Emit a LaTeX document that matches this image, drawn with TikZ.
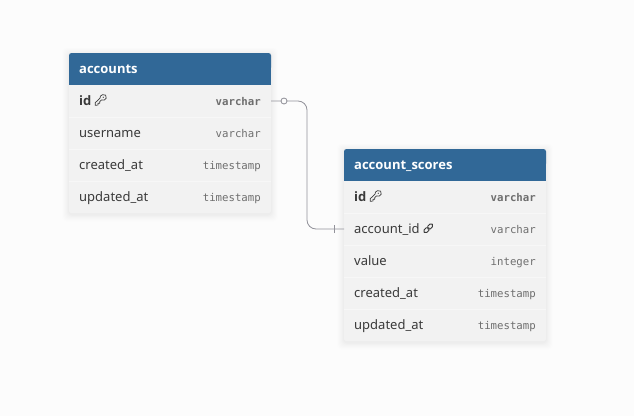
\documentclass[tikz,border=0pt]{standalone}
\usepackage{fontspec}
\setmainfont{Noto Sans}
\newfontfamily\boldfam{Open Sans}
\newfontfamily\monof{DejaVu Sans Mono}
\definecolor{bgc}{HTML}{FCFCFC}
\definecolor{hdr}{HTML}{316897}
\definecolor{rowc}{HTML}{F2F2F2}
\definecolor{sep}{HTML}{F7F7F7}
\definecolor{txt}{HTML}{3A3A3A}
\definecolor{typ}{HTML}{6E6E6E}
\definecolor{lnk}{HTML}{92929A}
\tikzset{
  x=1pt,y=-1pt,
  hdrtext/.style={anchor=base west,text=white,font=\fontsize{13}{13}\selectfont\boldfam\bfseries,inner sep=0pt},
  rowbox/.style={anchor=north west,minimum width=202pt,minimum height=32pt,inner sep=0pt,outer sep=0pt,fill=rowc},
  fname/.style={anchor=base west,text=txt,font=\fontsize{13}{13}\selectfont,inner sep=0pt},
  pkname/.style={fname,font=\fontsize{13}{13}\selectfont\boldfam\bfseries},
  ftype/.style={anchor=base east,text=typ,font=\fontsize{10.7}{11}\selectfont\monof,inner sep=0pt},
  pktype/.style={ftype,font=\fontsize{10.7}{11}\selectfont\monof\bfseries},
  conn/.style={draw=lnk,line width=0.85pt},
  opt/.style={circle,draw=lnk,fill=bgc,line width=0.85pt,minimum size=6pt,inner sep=0pt},
  icon/.style={draw=txt,line width=0.7pt,line cap=round,line join=round},
  keyicon/.pic={
    \draw[icon,scale=1.15] (1.6,-4.6) .. controls (3.6,-5.6) and (5.6,-3.6) .. (4.8,-1.6)
       .. controls (4.2,0) and (2.2,0.8) .. (0.6,0)
       -- (-0.9,1.5) -- (-0.9,2.9) -- (-2.4,2.9) -- (-2.4,4.4) -- (-4.8,4.6) -- (-4.8,2.4)
       -- (-0.6,-1.6) .. controls (-1,-3) and (0.2,-4.2) .. (1.6,-4.6);
    \fill[txt,scale=1.15] (2.3,-2.4) circle (0.55);
  },
  linkicon/.pic={
    \draw[icon,rotate=45,line width=0.95pt,rounded corners=1.8pt] (-5.7,-1.9) rectangle (0.7,1.9);
    \draw[icon,rotate=45,line width=0.95pt,rounded corners=1.8pt] (-0.7,-1.9) rectangle (5.7,1.9);
  },
  tabletop/.style={fill=hdr,rounded corners=2.5pt},
}
\newcommand{\softshadow}[4]{%
  \foreach \g/\o in {7/0.005,6/0.006,5/0.007,4/0.008,3/0.009,2/0.01,1/0.012}{
    \fill[black,opacity=\o,rounded corners=4pt] (#1-\g,#2-\g+1.5) rectangle (#3+\g,#4+\g+1.5);
  }}
\begin{document}
\begin{tikzpicture}
\useasboundingbox (0,0) rectangle (634,416);
\fill[bgc] (0,0) rectangle (634,416);
% accounts
\softshadow{69}{53}{271}{213}
\fill[rowc,rounded corners=2.5pt] (69,200) rectangle (271,213);
\fill[tabletop] (69,53) rectangle (271,70);
\node[anchor=north west,fill=hdr,minimum width=202pt,minimum height=26pt,inner sep=0pt,outer sep=0pt] (ah) at (69,59) {};
\node[hdrtext] (aht) at (79,73) {accounts};
\node[rowbox] (a1) at (69,85) {};
\node[rowbox] (a2) at (69,117) {};
\node[rowbox] (a3) at (69,149) {};
\node[rowbox,minimum height=26pt] (a4) at (69,181) {};
\fill[rowc,rounded corners=2.5pt] (69,200) rectangle (271,213);
\foreach \yy in {117,149,181}{\draw[sep,line width=0.8pt] (69,\yy) -- (271,\yy);}
\node[pkname] (a1n) at (79,105) {id};
\pic at (100.7,100) {keyicon};
\node[pktype] (a1t) at (261,105) {varchar};
\node[fname] (a2n) at (79,137) {username};
\node[ftype] (a2t) at (261,137) {varchar};
\node[fname] (a3n) at (79,169) {created\_at};
\node[ftype] (a3t) at (261,169) {timestamp};
\node[fname] (a4n) at (79,201) {updated\_at};
\node[ftype] (a4t) at (261,201) {timestamp};
% account_scores
\softshadow{344}{149}{546}{341}
\fill[rowc,rounded corners=2.5pt] (344,328) rectangle (546,341);
\fill[tabletop] (344,149) rectangle (546,166);
\node[anchor=north west,fill=hdr,minimum width=202pt,minimum height=26pt,inner sep=0pt,outer sep=0pt] (sh) at (344,155) {};
\node[hdrtext] (sht) at (354,169) {account\_scores};
\node[rowbox] (s1) at (344,181) {};
\node[rowbox] (s2) at (344,213) {};
\node[rowbox] (s3) at (344,245) {};
\node[rowbox] (s4) at (344,277) {};
\node[rowbox,minimum height=26pt] (s5) at (344,309) {};
\fill[rowc,rounded corners=2.5pt] (344,328) rectangle (546,341);
\foreach \yy in {213,245,277,309}{\draw[sep,line width=0.8pt] (344,\yy) -- (546,\yy);}
\node[pkname] (s1n) at (354,201) {id};
\pic at (375.7,196) {keyicon};
\node[pktype] (s1t) at (536,201) {varchar};
\node[fname] (s2n) at (354,233) {account\_id};
\pic at (428.3,228.3) {linkicon};
\node[ftype] (s2t) at (536,233) {varchar};
\node[fname] (s3n) at (354,265) {value};
\node[ftype] (s3t) at (536,265) {integer};
\node[fname] (s4n) at (354,297) {created\_at};
\node[ftype] (s4t) at (536,297) {timestamp};
\node[fname] (s5n) at (354,329) {updated\_at};
\node[ftype] (s5t) at (536,329) {timestamp};
% connector
\coordinate (mid) at (307,165);
\draw[conn,rounded corners=9pt] (a1.east) -- (mid|-a1.east) -- (mid|-s2.west) -- (s2.west);
\node[opt] (optc) at ([xshift=13pt]a1.east) {};
\coordinate (tk) at ([xshift=-10pt]s2.west);
\draw[conn] ([yshift=-4pt]tk) -- ([yshift=4pt]tk);
\end{tikzpicture}
\end{document}
